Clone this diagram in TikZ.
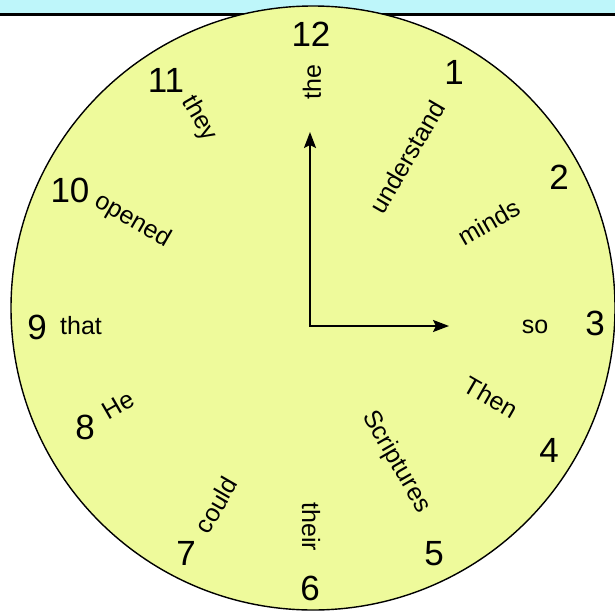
\documentclass[tikz,border=0pt]{standalone}
\usepackage{fontspec}
\setmainfont{Liberation Sans}
\usetikzlibrary{arrows.meta}
\definecolor{dialfill}{RGB}{238,250,155}
\definecolor{bandblue}{RGB}{190,246,250}
\begin{document}
\begin{tikzpicture}[x=1pt,y=-1pt,
		hour/.style={font=\fontsize{35}{35}\selectfont, inner sep=0pt},
		word/.style={font=\fontsize{25}{25}\selectfont, inner sep=0pt},
		hand/.style={line width=2.2pt, {Stealth[length=16pt,width=12pt,inset=3pt]}-{Stealth[length=16pt,width=12pt,inset=3pt]}}]
		\useasboundingbox (0,0) rectangle (615,613);
		\fill[bandblue] (0,0) rectangle (615,14);
		\draw[line width=3pt] (0,14.5) -- (615,14.5);
		\draw[line width=1.4pt, fill=dialfill] (313,308) circle (302);
		
		% the hour numbers
		\node[hour] (h12) at (311,34) {12};
		\node[hour] (h1) at (454,72) {1};
		\node[hour] (h2) at (559,177) {2};
		\node[hour] (h3) at (595,323) {3};
		\node[hour] (h4) at (549,450) {4};
		\node[hour] (h5) at (434,554) {5};
		\node[hour] (h6) at (310,588) {6};
		\node[hour] (h7) at (186,553) {7};
		\node[hour] (h8) at (85,427) {8};
		\node[hour] (h9) at (37,327) {9};
		\node[hour] (h10) at (70,190) {10};
		\node[hour] (h11) at (166,80) {11};
		
		% the words
		\node[word, rotate=90] (w12) at (312,82) {the};
		\node[word, rotate=60] (w1) at (407,157) {understand};
		\node[word, rotate=30] (w2) at (489,222) {minds};
		\node[word] (w3) at (535,327) {so};
		\node[word, rotate=-30] (w4) at (491,397) {Then};
		\node[word, rotate=-60] (w5) at (396,462) {Scriptures};
		\node[word, rotate=-90] (w6) at (311,527) {their};
		\node[word, rotate=60] (w7) at (216,505) {could};
		\node[word, rotate=30] (w8) at (118,405) {He};
		\node[word] (w9) at (81,326) {that};
		\node[word, rotate=-30] (w10) at (133,221) {opened};
		\node[word, rotate=-60] (w11) at (199,119) {they};
		
		% the hands
		\coordinate (hub) at (310,326);
		\coordinate (hourtip) at (310,132);
		\coordinate (minutetip) at (449,326);
		\draw[hand] (hourtip) -- (hub) -- (minutetip);
	\end{tikzpicture}
\end{document}
